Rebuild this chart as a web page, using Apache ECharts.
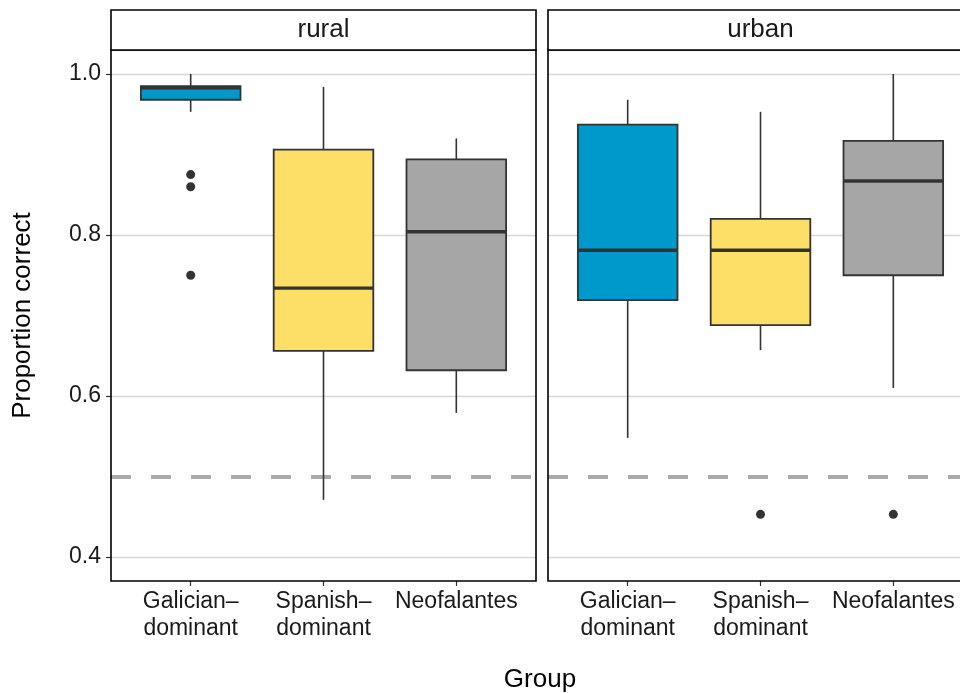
<!DOCTYPE html>
<html>
<head>
<meta charset="utf-8">
<script src="https://cdn.jsdelivr.net/npm/echarts@6/dist/echarts.min.js"></script>
<style>
  html, body { margin: 0; padding: 0; background: #fff; overflow: hidden; }
  #chart { width: 960px; height: 693px; }
</style>
</head>
<body>
<div id="chart"></div>
<script>
// groups along x, panels (facets)
var groups = ['Galician–\ndominant', 'Spanish–\ndominant', 'Neofalantes'];
var panels = ['rural', 'urban'];
var groupColors = ['#0099cc', '#fddf68', '#a6a6a6'];

// box stats per group: [min, q1, median, q3, max]
var ruralBoxes = [
    [0.953, 0.968, 0.983, 0.985, 1.0],
    [0.471, 0.656, 0.734, 0.906, 0.984],
    [0.579, 0.632, 0.804, 0.894, 0.920]
];
var urbanBoxes = [
    [0.548, 0.719, 0.781, 0.937, 0.968],
    [0.657, 0.688, 0.781, 0.820, 0.953],
    [0.610, 0.750, 0.867, 0.917, 1.0]
];

// outliers: [group index (1-based), value]
var ruralOutliers = [[1, 0.875], [1, 0.860], [1, 0.750]];
var urbanOutliers = [[2, 0.453], [3, 0.453]];

var yTicks = [0.4, 0.6, 0.8, 1.0];
var chanceLevel = 0.5;

var font = 'Liberation Sans, Arial, sans-serif';

function boxData(boxes) {
    return boxes.map(function(b, i) {
        return { value: [i + 1].concat(b), itemStyle: { color: groupColors[i] } };
    });
}

function renderBox(params, api) {
    var x = api.value(0);
    var pMin = api.coord([x, api.value(1)]);
    var pQ1 = api.coord([x, api.value(2)]);
    var pMed = api.coord([x, api.value(3)]);
    var pQ3 = api.coord([x, api.value(4)]);
    var pMax = api.coord([x, api.value(5)]);
    var w = api.size([0.75, 0])[0];
    var fill = api.visual('color');
    var line = { stroke: '#333333', lineWidth: 1.6 };
    return {
        type: 'group',
        children: [
            { type: 'line', shape: { x1: pMin[0], y1: pMin[1], x2: pQ1[0], y2: pQ1[1] }, style: line },
            { type: 'line', shape: { x1: pQ3[0], y1: pQ3[1], x2: pMax[0], y2: pMax[1] }, style: line },
            { type: 'rect', shape: { x: pQ3[0] - w / 2, y: pQ3[1], width: w, height: pQ1[1] - pQ3[1] },
              style: { fill: fill, stroke: '#333333', lineWidth: 1.8 } },
            { type: 'line', shape: { x1: pMed[0] - w / 2, y1: pMed[1], x2: pMed[0] + w / 2, y2: pMed[1] },
              style: { stroke: '#333333', lineWidth: 3.4 } }
        ]
    };
}

var chart = echarts.init(document.getElementById('chart'), null, { renderer: 'canvas' });

// second panel runs off the right edge, as in the original
var grids = [
    { left: 111, width: 425, top: 50, bottom: 112 },
    { left: 548, width: 425, top: 50, bottom: 112 }
];

var xAxes = grids.map(function(g, i) {
    return {
        type: 'value', gridIndex: i, min: 0.4, max: 3.6,
        axisLine: { show: false },
        axisTick: { show: true, customValues: [1, 2, 3], length: 5, lineStyle: { color: '#333', width: 1.2 } },
        axisLabel: {
            customValues: [1, 2, 3],
            formatter: function(v) { return groups[Math.round(v) - 1] || ''; },
            fontFamily: font, fontSize: 23, color: '#1a1a1a', lineHeight: 27, margin: 7
        },
        splitLine: { show: false }
    };
});

var yAxes = grids.map(function(g, i) {
    return {
        type: 'value', gridIndex: i, min: 0.3702, max: 1.0298,
        name: i === 0 ? 'Proportion correct' : '',
        nameLocation: 'middle', nameGap: 75,
        nameTextStyle: { fontFamily: font, fontSize: 26, color: '#000' },
        axisLine: { show: false },
        axisTick: { show: i === 0, customValues: yTicks, length: 5, lineStyle: { color: '#333', width: 1.2 } },
        axisLabel: {
            show: i === 0, customValues: yTicks,
            formatter: function(v) { return v.toFixed(1); },
            fontFamily: font, fontSize: 23, color: '#1a1a1a', margin: 10
        },
        splitLine: { show: true, lineStyle: { color: '#d6d6d6', width: 1.4 } }
    };
});

var series = [];
[ruralBoxes, urbanBoxes].forEach(function(boxes, i) {
    series.push({
        type: 'custom', xAxisIndex: i, yAxisIndex: i,
        renderItem: renderBox,
        encode: { x: 0, y: [1, 2, 3, 4, 5] },
        data: boxData(boxes),
        z: 3,
        markLine: {
            silent: true, symbol: 'none', z: 2,
            label: { show: false },
            lineStyle: { color: '#aaaaaa', width: 4, type: [20, 20] },
            data: [{ yAxis: chanceLevel }]
        }
    });
});
[ruralOutliers, urbanOutliers].forEach(function(pts, i) {
    series.push({
        type: 'scatter', xAxisIndex: i, yAxisIndex: i,
        symbol: 'circle', symbolSize: 9,
        itemStyle: { color: '#333333', opacity: 1 },
        data: pts, z: 4
    });
});

// strip boxes and facet labels
var graphics = [];
grids.forEach(function(g, i) {
    var x0 = g.left, x1 = g.left + g.width;
    graphics.push({
        type: 'rect', shape: { x: x0, y: 10, width: x1 - x0, height: 40 },
        style: { fill: '#ffffff', stroke: '#000', lineWidth: 1.6 }, z: 10
    });
    graphics.push({
        type: 'text', x: (x0 + x1) / 2, y: 30,
        style: { text: panels[i], font: '26px ' + font, fill: '#1a1a1a', textAlign: 'center', textVerticalAlign: 'middle' },
        z: 11
    });
});
graphics.push({
    type: 'text', x: 540, y: 680,
    style: { text: 'Group', font: '26px ' + font, fill: '#000', textAlign: 'center', textVerticalAlign: 'middle' }
});

chart.setOption({
    animation: false,
    backgroundColor: '#ffffff',
    grid: grids.map(function(g) {
        return { left: g.left, width: g.width, top: g.top, bottom: g.bottom, show: true,
                 outerBoundsMode: 'none', containLabel: false,
                 borderColor: '#000', borderWidth: 1.6, backgroundColor: 'transparent', z: 5 };
    }),
    xAxis: xAxes,
    yAxis: yAxes,
    series: series,
    graphic: graphics
});
</script>
</body>
</html>
